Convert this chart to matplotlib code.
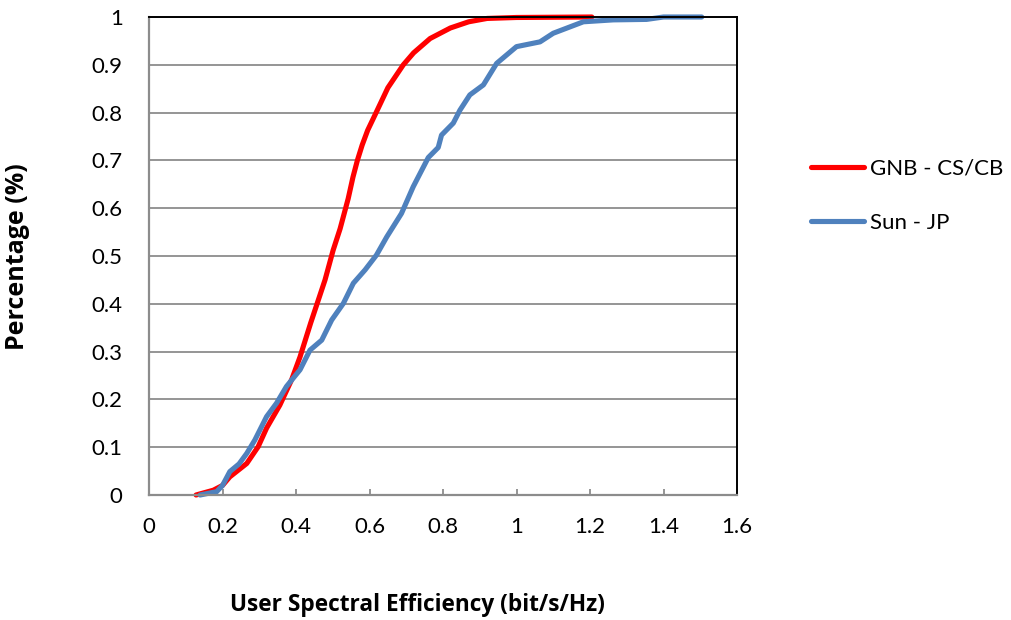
import matplotlib
matplotlib.use("Agg")
import matplotlib.pyplot as plt
from matplotlib.ticker import MultipleLocator, FuncFormatter

# CDF samples of user spectral efficiency
gnb_x = [0.128, 0.175, 0.20, 0.22, 0.248, 0.266, 0.297, 0.32, 0.356, 0.388,
         0.411, 0.44, 0.479, 0.501, 0.52, 0.542, 0.555, 0.567, 0.58, 0.595,
         0.618, 0.65, 0.692, 0.72, 0.765, 0.82, 0.87, 0.92, 1.0, 1.205]
gnb_y = [0.0, 0.01, 0.02, 0.038, 0.055, 0.066, 0.101, 0.14, 0.188, 0.241,
         0.289, 0.36, 0.45, 0.512, 0.557, 0.62, 0.665, 0.70, 0.732, 0.763,
         0.80, 0.852, 0.90, 0.925, 0.955, 0.977, 0.99, 0.997, 0.999, 1.0]

sun_x = [0.139, 0.184, 0.20, 0.22, 0.245, 0.266, 0.288, 0.32, 0.347, 0.374,
         0.411, 0.438, 0.47, 0.497, 0.529, 0.556, 0.588, 0.619, 0.647, 0.687,
         0.719, 0.76, 0.787, 0.796, 0.828, 0.846, 0.873, 0.91, 0.946, 1.0,
         1.064, 1.1, 1.182, 1.263, 1.354, 1.4, 1.504]
sun_y = [0.0, 0.007, 0.02, 0.049, 0.065, 0.087, 0.115, 0.164, 0.192, 0.227,
         0.262, 0.303, 0.324, 0.366, 0.401, 0.443, 0.471, 0.502, 0.540, 0.589,
         0.645, 0.706, 0.727, 0.753, 0.778, 0.805, 0.837, 0.858, 0.903, 0.938,
         0.948, 0.966, 0.99, 0.994, 0.995, 1.0, 1.0]

series_labels = ["GNB - CS/CB", "Sun - JP"]
x_title = "User Spectral Efficiency (bit/s/Hz)"
y_title = "Percentage (%)"

plt.rcParams["font.family"] = ["Lato", "DejaVu Sans"]

W, H = 1011, 620
fig = plt.figure(figsize=(W / 100, H / 100), dpi=100)
ax = fig.add_axes([149 / W, 1 - 495 / H, (737 - 149) / W, (495 - 17) / H])

grid_c = "#8c8c8c"
ax.set_xlim(0, 1.6)
ax.set_ylim(0, 1)
ax.yaxis.set_major_locator(MultipleLocator(0.1))
ax.xaxis.set_major_locator(MultipleLocator(0.2))
fmt = FuncFormatter(lambda v, p: f"{v:.1f}".rstrip("0").rstrip(".") if v != 0 else "0")
ax.xaxis.set_major_formatter(fmt)
ax.yaxis.set_major_formatter(fmt)
ax.grid(axis="y", color=grid_c, lw=1.3)
ax.set_axisbelow(True)

for side in ("left", "bottom"):
    ax.spines[side].set_color(grid_c)
    ax.spines[side].set_linewidth(1.6)
for side in ("top", "right"):
    ax.spines[side].set_color("black")
    ax.spines[side].set_linewidth(1.4)

ax.tick_params(axis="y", length=0, pad=19, labelsize=16, colors="black")
ax.tick_params(axis="x", direction="in", length=4, width=1.3, color=grid_c,
               pad=16, labelsize=16, labelcolor="black")

l1, = ax.plot(gnb_x, gnb_y, color="#ff0000", lw=3.7,
              solid_capstyle="round", solid_joinstyle="round", clip_on=False)
l2, = ax.plot(sun_x, sun_y, color="#4f81bd", lw=3.7,
              solid_capstyle="round", solid_joinstyle="round", clip_on=False)

fig.legend([l1, l2], series_labels, loc="center left",
           bbox_to_anchor=(802 / W, 1 - 196 / H), frameon=False,
           fontsize=16, handlelength=2.4, handletextpad=0.25,
           labelspacing=1.55, borderaxespad=0)

fig.text(417 / W, 1 - 605 / H, x_title, ha="center", va="center",
         fontsize=16.3, fontweight="bold", family=["Open Sans", "DejaVu Sans"])
fig.text(18 / W, 1 - 257 / H, y_title, ha="center", va="center",
         rotation=90, fontsize=18, fontweight="bold",
         family=["Open Sans", "DejaVu Sans"])

fig.savefig("out.png", dpi=100)
